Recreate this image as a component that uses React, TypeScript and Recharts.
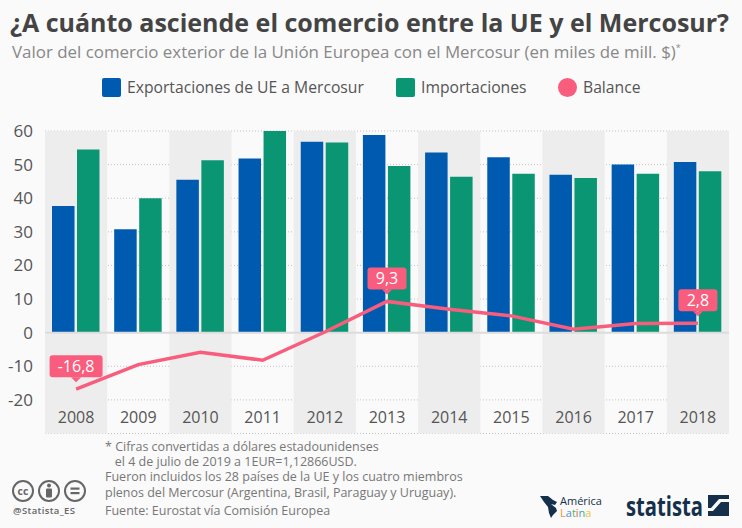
import React from "react";
import {
  ComposedChart,
  Bar,
  Line,
  XAxis,
  YAxis,
  CartesianGrid,
  ReferenceArea,
  ReferenceLine,
  LabelList,
  Legend,
} from "recharts";

const years = ["2008", "2009", "2010", "2011", "2012", "2013", "2014", "2015", "2016", "2017", "2018"];
const exportsEu = [37.7, 30.8, 45.5, 51.8, 56.8, 58.8, 53.6, 52.2, 47, 50, 50.8];
const imports = [54.5, 40, 51.3, 60, 56.6, 49.6, 46.4, 47.3, 46, 47.3, 48];
const balance = [-16.8, -9.5, -5.8, -8.2, 0.2, 9.3, 7, 5, 1, 2.7, 2.8];
const shadedYears = ["2008", "2010", "2012", "2014", "2016", "2018"];
const labeledYears = ["2008", "2013", "2018"];
const yTicks = [-20, -10, 0, 10, 20, 30, 40, 50, 60];

const notes = [
  "* Cifras convertidas a dólares estadounidenses",
  "   el 4 de julio de 2019 a 1EUR=1,12866USD.",
  "Fueron incluidos los 28 países de la UE y los cuatro miembros",
  "plenos del Mercosur (Argentina, Brasil, Paraguay y Uruguay).",
];

const data = years.map((year, i) => ({
  year,
  exportsEu: exportsEu[i],
  imports: imports[i],
  balance: balance[i],
}));

const FONT = "'Open Sans', sans-serif";
const BLUE = "#005bb0";
const GREEN = "#0a9673";
const PINK = "#f95d7d";
const NAVY = "#14304a";

const legendLeft = [102, 396, 558];
const latinaLetters = [
  ["L", "#f0952e"],
  ["a", "#4a90d9"],
  ["t", "#5fb35a"],
  ["i", "#e2574c"],
  ["n", "#3aa8a0"],
  ["a", "#f2c230"],
];

const BalanceLabel = (props: any) => {
  const { x, y, value, index } = props;
  if (!labeledYears.includes(years[index])) return null;
  const text = String(value).replace(".", ",");
  const w = text.length > 3 ? 53 : 39;
  const top = y - 34;
  return (
    <g>
      <rect x={x - w / 2} y={top} width={w} height={22} rx={3} fill={PINK} />
      <path d={`M${x - 5} ${top + 22} L${x} ${top + 27} L${x + 5} ${top + 22} Z`} fill={PINK} />
      <text x={x} y={top + 17} textAnchor="middle" fontSize={16} fontFamily={FONT} fill="#fff">
        {text}
      </text>
    </g>
  );
};

const ChartLegend = (props: any) => (
  <div style={{ position: "relative", height: 20, fontFamily: FONT, fontSize: 15.7, color: "#555" }}>
    {props.payload.map((item: any, i: number) => (
      <div
        key={item.value}
        style={{ position: "absolute", left: legendLeft[i], top: 0, display: "flex", alignItems: "center", height: 20, whiteSpace: "nowrap" }}
      >
        <span
          style={{
            display: "inline-block",
            width: 19,
            height: 19,
            borderRadius: i === 2 ? "50%" : 2,
            background: item.color,
            marginRight: 6,
          }}
        />
        {item.value}
      </div>
    ))}
  </div>
);

const Footer = () => (
  <svg width={742} height={528} style={{ position: "absolute", left: 0, top: 0 }} fontFamily={FONT}>
    {notes.map((line, i) => (
      <text key={i} x={105} y={451 + i * 15.2} fontSize={12.5} fill="#777" style={{ whiteSpace: "pre" }}>
        {line}
      </text>
    ))}
    <text x={105} y={515} fontSize={12.5} fill="#777">
      Fuente: Eurostat vía Comisión Europea
    </text>
    {[23, 49, 75].map((cx) => (
      <circle key={cx} cx={cx} cy={491} r={10} fill="none" stroke="#666" strokeWidth={2} />
    ))}
    <text x={23} y={495} textAnchor="middle" fontSize={10.5} fontWeight={700} fill="#666">cc</text>
    <circle cx={49} cy={485.5} r={2} fill="#666" />
    <rect x={46} y={488.5} width={6} height={9} rx={1} fill="#666" />
    <rect x={70.5} y={487.5} width={9} height={2.2} fill="#666" />
    <rect x={70.5} y={492} width={9} height={2.2} fill="#666" />
    <text x={13} y={514} fontSize={9.5} fontWeight={600} fill="#666" textLength={62}>@Statista_ES</text>
    <path d="M540 496 L548 496 L553 500 L557 502 L555 505 L551 504 L556 508 L557 511 L553 515 L551 518 L549 513 L548 507 L544 502 Z" fill={NAVY} />
    <text x={560} y={505} fontSize={11} fill={NAVY}>América</text>
    <text x={560} y={517} fontSize={11}>
      {latinaLetters.map(([ch, color], i) => (
        <tspan key={i} fill={color}>{ch}</tspan>
      ))}
    </text>
    <text x={626} y={516} fontSize={26} fontWeight={700} fill={NAVY} textLength={77} lengthAdjust="spacingAndGlyphs">statista</text>
    <rect x={708} y={495} width={21} height={21} fill={NAVY} />
    <path d="M708 511 L713 511 L721 502 L729 502 L729 499 L719 499 L711 508 L708 508 Z" fill="#fafafa" />
  </svg>
);

export default function App() {
  return (
    <div style={{ position: "absolute", left: 0, top: 0, width: 742, height: 528, background: "#fafafa", overflow: "hidden" }}>
      <div style={{ position: "absolute", left: 10, top: 5, fontFamily: FONT, fontWeight: 700, fontSize: 25, color: "#444", whiteSpace: "nowrap" }}>
        ¿A cuánto asciende el comercio entre la UE y el Mercosur?
      </div>
      <div style={{ position: "absolute", left: 12, top: 40, fontFamily: FONT, fontSize: 16.9, color: "#888", whiteSpace: "nowrap" }}>
        Valor del comercio exterior de la Unión Europea con el Mercosur (en miles de mill. $)<sup style={{ fontSize: 9 }}>*</sup>
      </div>
      <ComposedChart
        width={742}
        height={528}
        data={data}
        margin={{ top: 111, right: 13, bottom: 93.5, left: 0 }}
        barGap={2.5}
        barSize={22.5}
        style={{ position: "absolute", left: 0, top: 0 }}
      >
        {shadedYears.map((y) => (
          <ReferenceArea key={y} x1={y} x2={y} fill="#ededed" fillOpacity={1} stroke="none" />
        ))}
        <CartesianGrid vertical={false} stroke="#c4c4c4" strokeDasharray="1 2" />
        <XAxis
          dataKey="year"
          height={1}
          axisLine={false}
          tickLine={false}
          interval={0}
          tick={{ fill: "#555", fontSize: 16, fontFamily: FONT, dy: -29.5 }}
        />
        <YAxis
          width={45}
          domain={[-30, 60]}
          ticks={yTicks}
          axisLine={false}
          tickLine={false}
          tickMargin={6}
          tick={{ fill: "#555", fontSize: 17, fontFamily: FONT }}
        />
        <ReferenceLine y={0} stroke="#dcdcdc" strokeWidth={2} />
        <Legend
          content={<ChartLegend />}
          verticalAlign="top"
          itemSorter={null}
          wrapperStyle={{ left: 0, top: 77, width: 742 }}
        />
        <Bar dataKey="exportsEu" name="Exportaciones de UE a Mercosur" fill={BLUE} isAnimationActive={false} />
        <Bar dataKey="imports" name="Importaciones" fill={GREEN} isAnimationActive={false} />
        <Line
          dataKey="balance"
          name="Balance"
          type="linear"
          stroke={PINK}
          strokeWidth={3.5}
          dot={false}
          activeDot={false}
          isAnimationActive={false}
        >
          <LabelList dataKey="balance" content={<BalanceLabel />} />
        </Line>
      </ComposedChart>
      <Footer />
    </div>
  );
}
